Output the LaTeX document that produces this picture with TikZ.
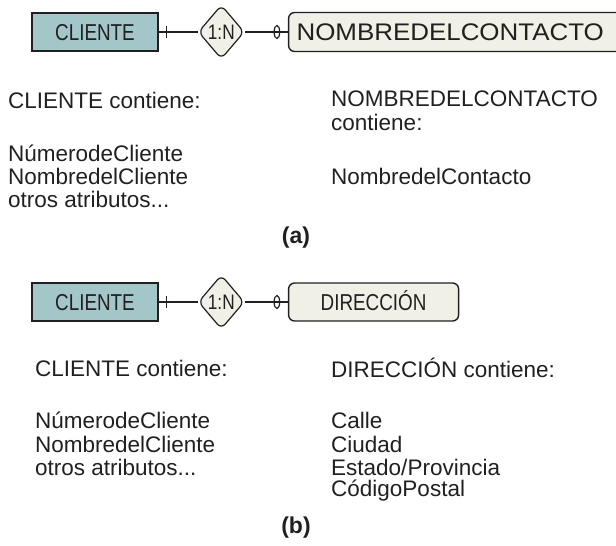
\documentclass[tikz,border=0pt]{standalone}
\usepackage{fontspec}
\setmainfont{Liberation Sans}
\newfontfamily\condfont[FakeStretch=0.82]{Liberation Sans}
\newfontfamily\widefont[FakeStretch=1.08]{Liberation Sans}
\usetikzlibrary{shapes.geometric, positioning}
\definecolor{entblue}{RGB}{163, 198, 201}
\definecolor{entbeige}{RGB}{240, 240, 231}
\definecolor{inkgray}{RGB}{35, 31, 32}
\tikzset{
    entity/.style={
        rectangle,
        draw=inkgray,
        line width=1.4pt,
        fill=entblue,
        minimum width=126pt,
        minimum height=38pt,
        inner sep=0pt,
        text height=16.5pt,
        text depth=0pt,
        text=inkgray,
        font=\condfont\fontsize{23}{26}\selectfont
    },
    weakentity/.style={entity, fill=entbeige, rounded corners=6pt},
    relation/.style={
        diamond,
        draw=inkgray,
        line width=1.2pt,
        fill=entbeige,
        rounded corners=6pt,
        aspect=0.85,
        minimum width=46pt,
        minimum height=54pt,
        inner sep=0pt,
        text height=15pt,
        text depth=0pt,
        text=inkgray,
        font=\condfont\fontsize{21}{24}\selectfont
    },
    conn/.style={draw=inkgray, line width=1.2pt},
    attr/.style={anchor=west, inner sep=0pt, text=inkgray, font=\fontsize{22.5}{26}\selectfont},
    caption/.style={inner sep=0pt, text=inkgray, font=\fontsize{23}{26}\selectfont\bfseries}
}

\begin{document}
\begin{tikzpicture}[x=1pt, y=-1pt]
    \useasboundingbox (0,0) rectangle (616,546);

    % (a) entities
    \node[entity] (cliA) at (95,32) {CLIENTE};
    \node[relation, right=39pt of cliA] (relA) {1:N};
    \node[weakentity, right=43pt of relA, minimum height=39pt, text width=324pt, inner xsep=8pt, align=left,
          text height=17pt, font=\widefont\fontsize{24}{26}\selectfont] (conA) {NOMBREDELCONTACTO};

    % (a) connections
    \path[conn] (cliA) -- (relA);
    \path[conn] (relA) -- (conA);
    \coordinate[right=8pt of cliA.east] (oneA);
    \coordinate[left=11pt of conA.west] (zeroA);
    \draw[conn] (oneA) +(0,-6) -- +(0,6);
    \draw[conn] (zeroA) ellipse [x radius=2.8, y radius=6.5];

    % (a) texts
    \node[attr] (cliAtitle) at (8,100) {CLIENTE contiene:};
    \foreach \txt [count=\i] in {NúmerodeCliente, NombredelCliente, otros atributos.{}.{}.}
        \node[attr] (cliAattr\i) at (8,130+23*\i) {\txt};
    \node[attr] (conAtitle) at (331,99) {NOMBREDELCONTACTO};
    \node[attr] (conAtitle2) at (331,122) {contiene:};
    \node[attr] (conAattr1) at (331,176) {NombredelContacto};
    \node[caption] (capA) at (296,238) {(a)};

    % (b) entities
    \node[entity] (cliB) at (95,302) {CLIENTE};
    \node[relation, right=39pt of cliB] (relB) {1:N};
    \node[weakentity, right=43pt of relB, minimum width=170pt] (dirB) {DIRECCIÓN};

    % (b) connections
    \path[conn] (cliB) -- (relB);
    \path[conn] (relB) -- (dirB);
    \coordinate[right=8pt of cliB.east] (oneB);
    \coordinate[left=11pt of dirB.west] (zeroB);
    \draw[conn] (oneB) +(0,-6) -- +(0,6);
    \draw[conn] (zeroB) ellipse [x radius=2.8, y radius=6.5];

    % (b) texts
    \node[attr] (cliBtitle) at (35,368) {CLIENTE contiene:};
    \foreach \txt [count=\i] in {NúmerodeCliente, NombredelCliente, otros atributos.{}.{}.}
        \node[attr] (cliBattr\i) at (35,397+23.5*\i) {\txt};
    \node[attr] (dirBtitle) at (331,368) {DIRECCIÓN contiene:};
    \foreach \txt [count=\i] in {Calle, Ciudad, Estado/Provincia, CódigoPostal}
        \node[attr] (dirBattr\i) at (331,397+23.5*\i) {\txt};
    \node[caption] (capB) at (296,528) {(b)};

\end{tikzpicture}
\end{document}
